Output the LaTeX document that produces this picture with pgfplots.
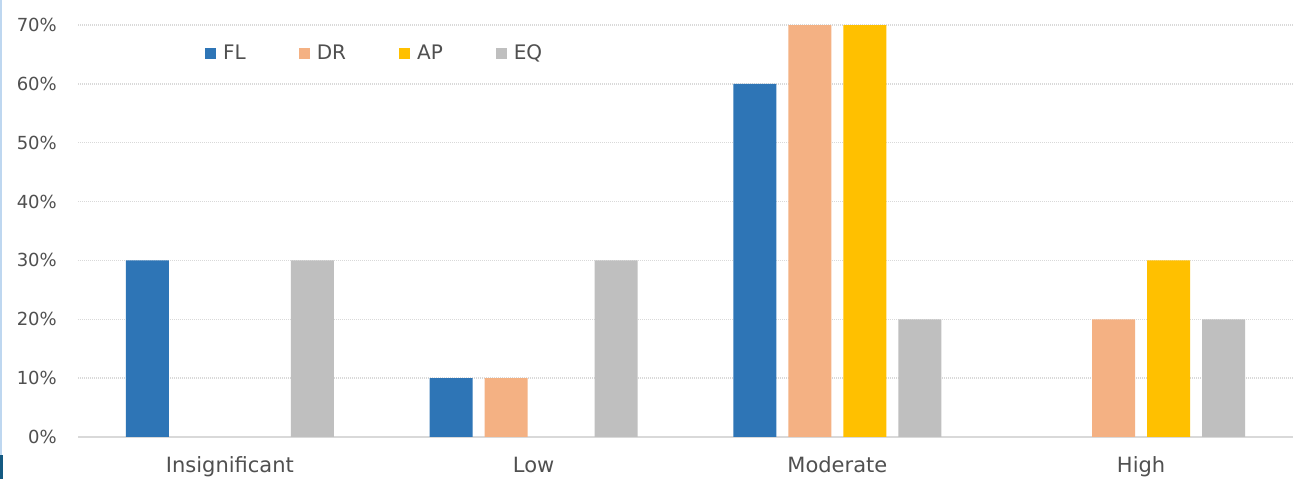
\documentclass[border=0pt]{standalone}
\usepackage{pgfplots}
\pgfplotsset{compat=1.18}
\usepackage{fontspec}
\setmainfont{DejaVu Sans}
\definecolor{cFL}{HTML}{2E75B6}
\definecolor{cDR}{HTML}{F4B183}
\definecolor{cAP}{HTML}{FFC000}
\definecolor{cEQ}{HTML}{BFBFBF}
\definecolor{txt}{HTML}{505050}
\definecolor{grd}{HTML}{D9D9D9}
\begin{document}
\begin{tikzpicture}
\useasboundingbox (0,0) rectangle (1301pt,479pt);
\fill[white] (0,0) rectangle (1301pt,479pt);
\draw[color={rgb,255:red,190;green,215;blue,240}, line width=1.2pt] (1pt,0) -- (1pt,479pt);
\fill[color={rgb,255:red,20;green,90;blue,130}] (0,0) rectangle (3pt,24pt);
\begin{axis}[
  at={(78pt,42pt)}, anchor=south west,
  scale only axis, width=1215pt, height=412pt,
  ybar=12pt, bar width=43pt,
  xmin=-0.5, xmax=3.5, ymin=0, ymax=70,
  xtick={0,1,2,3},
  xticklabels={Insignificant,Low,Moderate,High},
  ytick={0,10,...,70},
  yticklabel={\pgfmathprintnumber{\tick}\%},
  /pgf/number format/assume math mode=true,
  axis line style={draw=none},
  major tick length=0pt,
  ymajorgrids,
  grid style={color=grd, line width=1.5pt, dash pattern=on 1pt off 1pt},
  extra y ticks={0}, extra y tick labels={},
  extra y tick style={grid style={solid, color=grd, line width=1.5pt}},
  xticklabel style={font=\fontsize{21}{24}\selectfont, text=txt, anchor=base, inner sep=0pt, yshift=-36pt},
  yticklabel style={font=\fontsize{18}{21}\selectfont, text=txt, anchor=east, inner sep=0pt, xshift=-21pt},
  legend columns=4,
  legend style={at={(0.1045,0.932)}, anchor=west, draw=none, fill=none,
    font=\fontsize{20}{23}\selectfont, text=txt, inner sep=0pt,
    nodes={inner sep=0pt},
    /tikz/every odd column/.append style={column sep=7pt},
    /tikz/every even column/.append style={column sep=53pt}},
  legend image code/.code={\fill[#1] (0pt,-5.5pt) rectangle (11pt,5.5pt);},
]
\addplot[fill=cFL, draw=none] coordinates {(0,30) (1,10) (2,60)};
\addplot[fill=cDR, draw=none] coordinates {(1,10) (2,70) (3,20)};
\addplot[fill=cAP, draw=none] coordinates {(2,70) (3,30)};
\addplot[fill=cEQ, draw=none] coordinates {(0,30) (1,30) (2,20) (3,20)};
\legend{FL,DR,AP,EQ}
\end{axis}
\end{tikzpicture}
\end{document}
